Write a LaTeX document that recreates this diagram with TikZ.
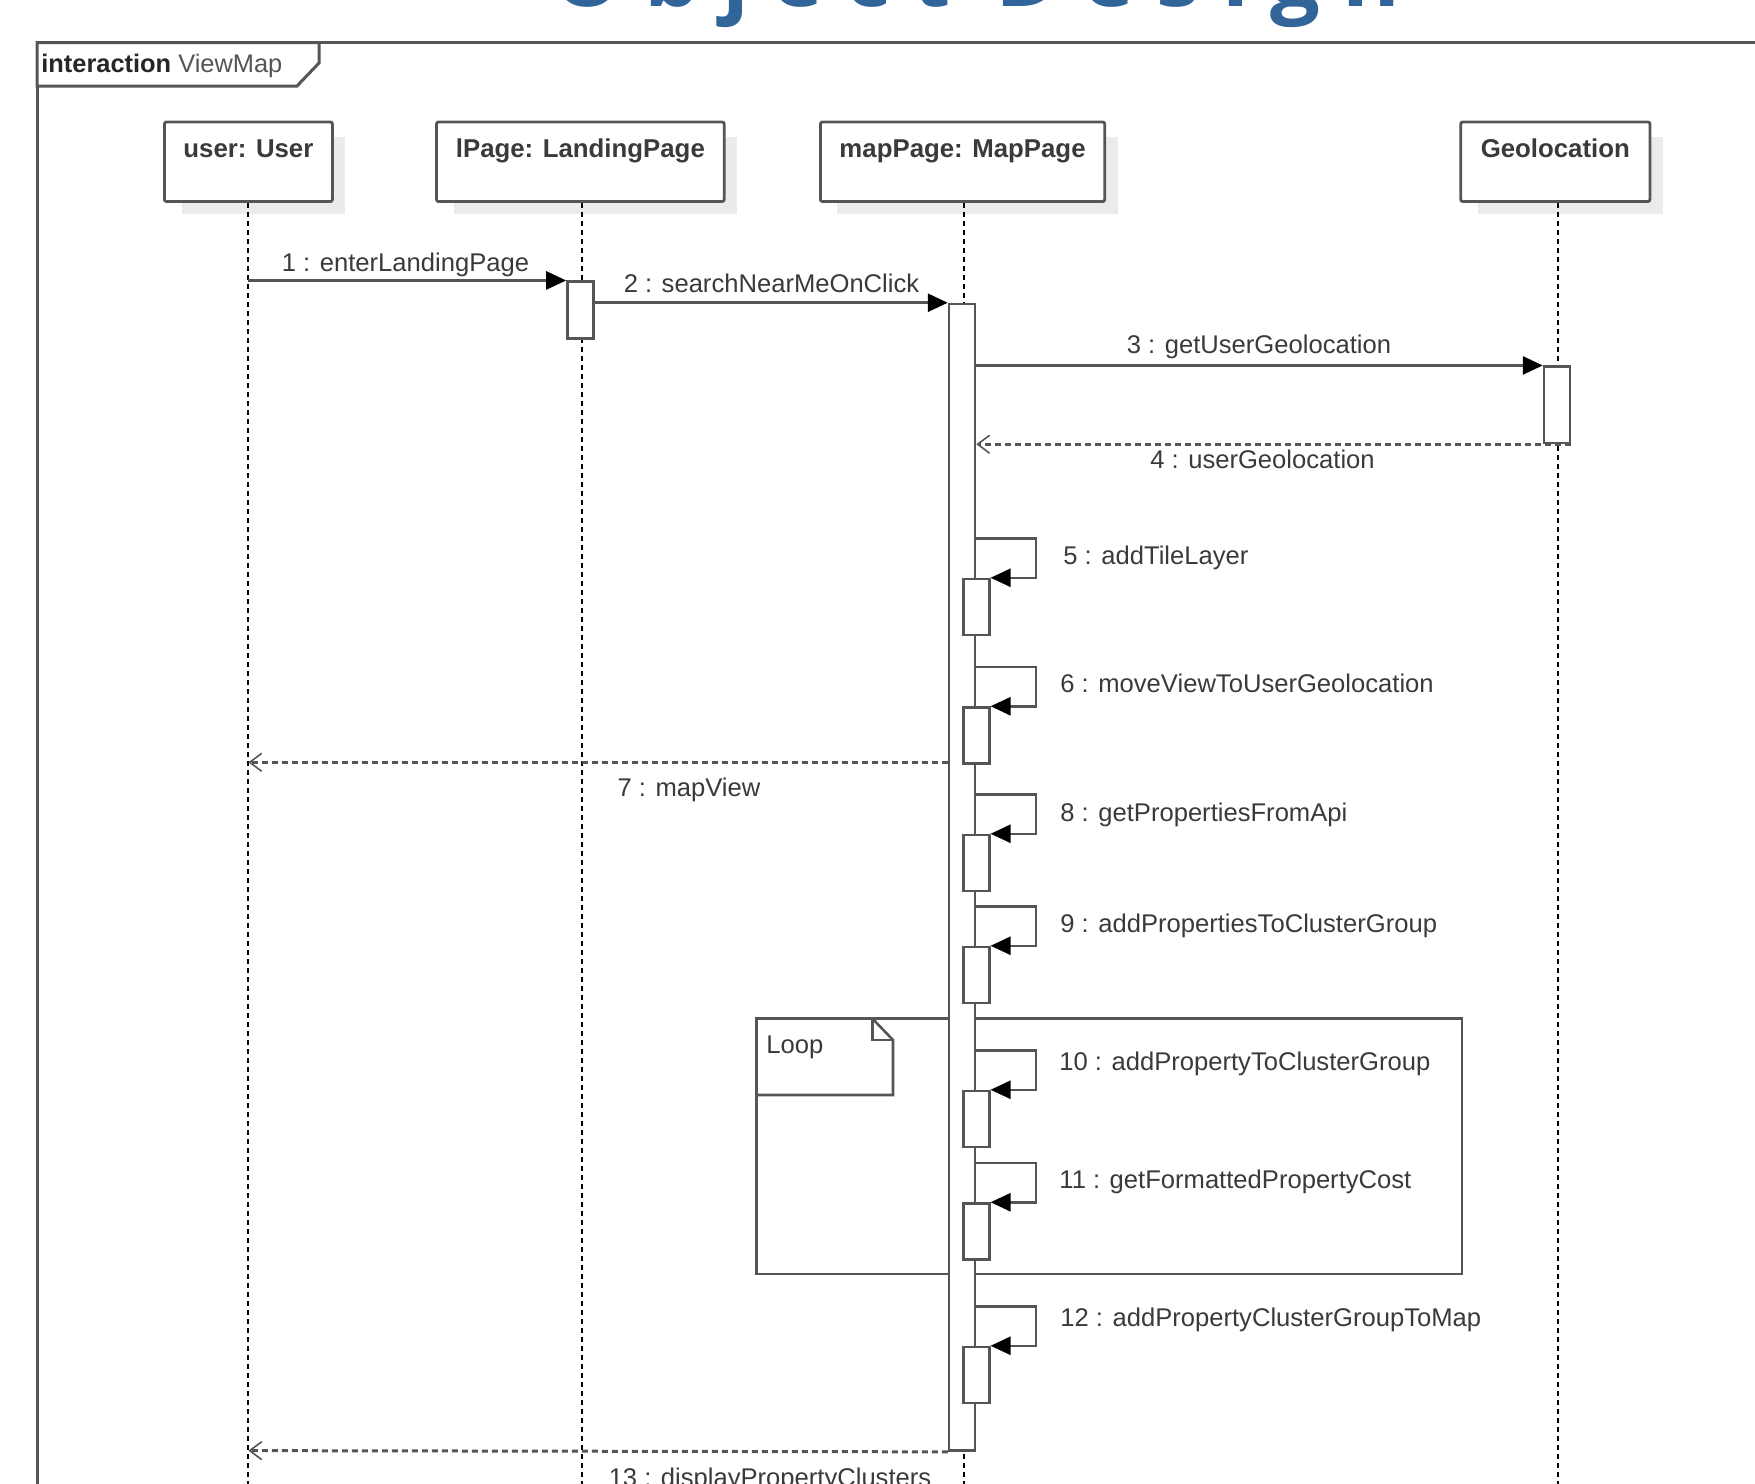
\documentclass[tikz,border=0pt]{standalone}
\usepackage{fontspec}
\setmainfont{Liberation Sans}
\newfontfamily\titlefont[LetterSpace=25]{Open Sans}
\usetikzlibrary{arrows.meta}
\definecolor{ln}{HTML}{555555}
\definecolor{txt}{HTML}{3A3A3A}
\definecolor{ttl}{RGB}{49,101,154}
\definecolor{shd}{HTML}{EBEBEB}
\tikzset{
  lbox/.style={draw=ln, line width=1.4pt, fill=white, rounded corners=1pt, minimum height=39.75pt, inner sep=0pt},
  ltitle/.style={inner sep=0pt, text=txt, font=\fontsize{12.9pt}{15pt}\selectfont\bfseries},
  lifeline/.style={draw=black, line width=1pt, dash pattern=on 2.5pt off 2pt},
  act/.style={draw=ln, line width=1.25pt, fill=white, minimum width=13pt, inner sep=0pt},
  msg/.style={draw=ln, line width=1.4pt, -{Triangle[length=10pt,width=9pt,color=black]}},
  ret/.style={draw=ln, line width=1.5pt, dash pattern=on 3pt off 2pt, -{Straight Barb[length=6pt,width=9pt,line width=0.8pt]}},
  lbl/.style={inner sep=0pt, text=txt, font=\fontsize{12.8pt}{15pt}\selectfont},
  frame/.style={draw=ln, line width=1.5pt},
}
\begin{document}
\begin{tikzpicture}[x=0.5pt,y=-0.5pt]
\useasboundingbox (0,0) rectangle (1755,1483);
\clip (0,0) rectangle (1755,1483);
% title (cut off at top)
\node[anchor=base west, inner sep=0pt, text=ttl, font=\titlefont\bfseries\fontsize{44pt}{52pt}\selectfont] (title) at (552,6) {Object Design};
% outer interaction frame
\draw[frame] (37,1600) -- (37,42.5) -- (1800,42.5);
\draw[frame, fill=white] (37,42.5) -- (37,86) -- (297,86) -- (319,63) -- (319,42.5) -- cycle;
\node[anchor=base west, inner sep=0pt, font=\fontsize{12.7pt}{15pt}\selectfont] (frameT) at (41,72.7) {\textcolor{black!85}{\bfseries interaction} \textcolor{ln}{ViewMap}};
% loop fragment
\draw[frame, line width=1.3pt, fill=white] (756.6,1018.6) rectangle (1461.8,1274);
\draw[frame, line width=1.3pt, fill=white] (756.6,1018.6) -- (872.4,1018.6) -- (893,1040) -- (893,1095) -- (756.6,1095) -- cycle;
\draw[draw=ln, line width=1.1pt] (872.4,1018.6) -- (872.4,1040) -- (893,1040);
\node[lbl, anchor=base west] (loopT) at (766,1053.3) {Loop};
% shadows
\fill[shd] (181.5,137) rectangle (345.4,213.5);
\fill[shd] (453.5,137) rectangle (737.2,213.5);
\fill[shd] (837.4,137) rectangle (1117.7,213.5);
\fill[shd] (1477.7,137) rectangle (1662.9,213.5);
% lifeline heads
\node[lbox, minimum width=84pt] (user) at (248.4,161.75) {};
\node[lbox, minimum width=143.85pt] (lpage) at (580.35,161.75) {};
\node[lbox, minimum width=142.15pt] (map) at (962.55,161.75) {};
\node[lbox, minimum width=94.6pt] (geo) at (1555.3,161.75) {};
\node[ltitle, anchor=base] (userT) at (248.4,157) {user: User};
\node[ltitle, anchor=base] (lpageT) at (580.35,157) {lPage: LandingPage};
\node[ltitle, anchor=base] (mapT) at (962.55,157) {mapPage: MapPage};
\node[ltitle, anchor=base] (geoT) at (1555.3,157) {Geolocation};
% lifelines
\coordinate (userEnd) at (248.4,1500);
\coordinate (lpageEnd) at (581.5,1500);
\coordinate (mapEnd) at (963.5,1500);
\coordinate (geoEnd) at (1558,1500);
\draw[lifeline] (user.south) -- (userEnd);
\draw[lifeline] (lpage.south -| lpageEnd) -- (lpageEnd);
\draw[lifeline] (map.south -| mapEnd) -- (mapEnd);
\draw[lifeline] (geo.south -| geoEnd) -- (geoEnd);
% activations
\node[act, minimum height=28.3pt] (aL) at (580.4,310) {};
\node[act, minimum height=573.3pt] (aM) at (962,877.3) {};
\node[act, minimum height=38.15pt] (aG) at (1557,404.85) {};
% messages
\coordinate (u1) at (248.4,282);
\coordinate (u7) at (248.4,762.3);
\coordinate (u13) at (248.4,1450.6);
\draw[msg] (u1 |- aL.north) -- (aL.north west);
\draw[msg] (aL.east |- aM.north) -- (aM.north west);
\draw[msg] (aM.east |- aG.north) -- (aG.north west);
\draw[ret] (aG.south east) -- (aM.east |- aG.south);
\draw[ret] (aM.west |- u7) -- (u7);
\draw[ret] (aM.south west) -- (u13);
\node[lbl, anchor=base] (m1) at (405.5,271) {1 : enterLandingPage};
\node[lbl, anchor=base] (m2) at (771.5,292.7) {2 : searchNearMeOnClick};
\node[lbl, anchor=base] (m3) at (1259,353.3) {3 : getUserGeolocation};
\node[lbl, anchor=base] (m4) at (1262.5,468) {4 : userGeolocation};
\node[lbl, anchor=base] (m7) at (689,796.7) {7 : mapView};
\node[lbl, anchor=base] (m13) at (770,1486.6) {13 : displayPropertyClusters};
% self calls
\foreach \n/\T/\ly/\lx/\lab in {
  5/538.5/564.5/1063/{5 : addTileLayer},
  6/667/692/1060/{6 : moveViewToUserGeolocation},
  8/794.5/821/1060/{8 : getPropertiesFromApi},
  9/906.5/932.7/1060/{9 : addPropertiesToClusterGroup},
  10/1050.5/1070.4/1059/{10 : addPropertyToClusterGroup},
  11/1163/1188/1059/{11 : getFormattedPropertyCost},
  12/1306.5/1326.7/1060/{12 : addPropertyClusterGroupToMap}}{
  \node[act, minimum height=28pt] (s\n) at (976.3,\T+68.5) {};
  \coordinate (t\n) at (1036,\T);
  \draw[msg, line width=1.25pt] (aM.east |- t\n) -- (t\n) -- (t\n |- s\n.north east) -- (s\n.north east);
  \node[lbl, anchor=base west] (l\n) at (\lx,\ly) {\lab};
}
\end{tikzpicture}
\end{document}
